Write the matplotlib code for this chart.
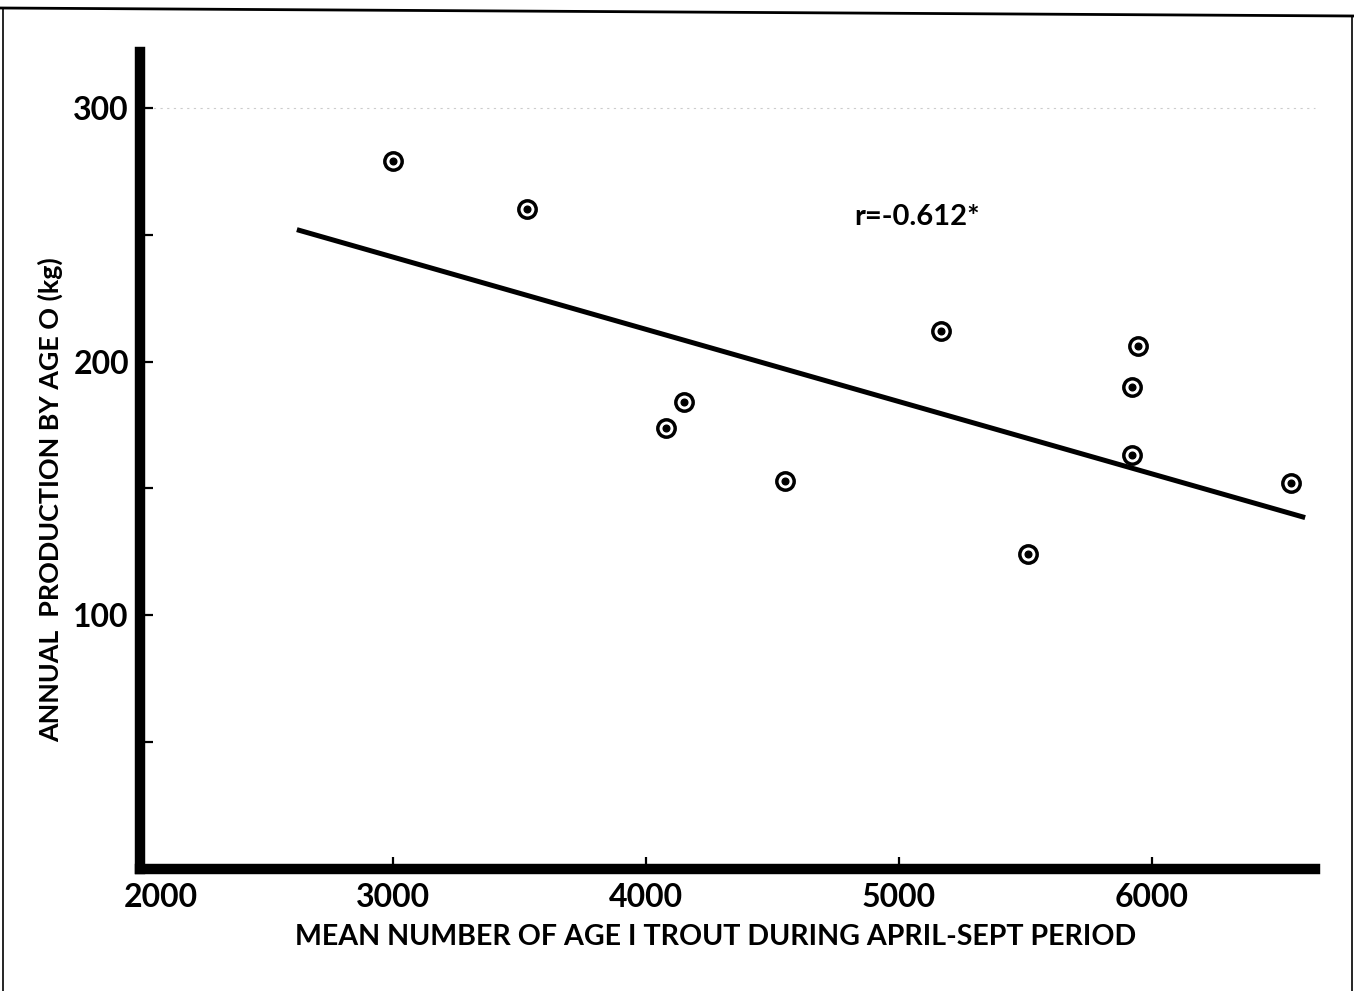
import numpy as np
import matplotlib.pyplot as plt
from matplotlib.lines import Line2D

plt.rcParams['font.family'] = ['Lato', 'DejaVu Sans']
plt.rcParams['font.weight'] = 'bold'
plt.rcParams['axes.labelweight'] = 'bold'

# mean number of age I trout vs production by age 0 (kg)
trout = [3000, 3530, 4080, 4150, 4550, 5165, 5510, 5945, 5920, 5920, 6550]
production = [279, 260, 174, 184, 153, 212, 124, 206, 190, 163, 152]

# regression line end points as drawn
line_x = [2620, 6605]
line_y = [252, 138.5]

xticks = [2000, 3000, 4000, 5000, 6000]
yticks = [50, 100, 150, 200, 250, 300]
yticklabels = ['', '100', '', '200', '', '300']

fig = plt.figure(figsize=(13.54, 9.91), dpi=100)
ax = fig.add_axes([0.1034, 0.1231, 0.8678, 0.8244])

ax.axhline(300, color='0.8', lw=0.8, ls=(0, (2, 4)), zorder=0, clip_on=False)

ax.plot(line_x, line_y, '-k', lw=3.6, solid_capstyle='butt')
ax.plot(trout, production, 'o', ms=12.5, mfc='white', mec='k', mew=2.5)
ax.plot(trout, production, 'o', ms=4.8, color='k')

ax.text(4822, 257, 'r=-0.612*', fontsize=21, va='center', ha='left')

ax.set_xlim(2000, 6644)
ax.set_ylim(0, 322)
ax.set_xticks(xticks)
ax.set_xticklabels([''] + [str(t) for t in xticks[1:]])
ax.set_yticks(yticks)
ax.set_yticklabels(yticklabels)
ax.tick_params(direction='in', length=9, width=1.6, labelsize=23, pad=8)
ax.tick_params(axis='x', pad=10)
ax.xaxis.get_majorticklines()[0].set_visible(False)
ax.xaxis.get_majorticklines()[1].set_visible(False)
# the 2000 label sits a little right of the corner
ax.annotate(str(xticks[0]), xy=(xticks[0], 0), xycoords=('data', 'axes fraction'),
            xytext=(15, -10), textcoords='offset points', ha='center', va='top',
            fontsize=23)

for side in ['top', 'right']:
    ax.spines[side].set_visible(False)
for side in ['left', 'bottom']:
    ax.spines[side].set_linewidth(7.5)
    ax.spines[side].set_capstyle('projecting')

ax.set_xlabel('MEAN NUMBER OF AGE I TROUT DURING APRIL-SEPT PERIOD', fontsize=20.6, va='center')
ax.xaxis.set_label_coords(0.49, -0.083)
ax.set_ylabel('ANNUAL  PRODUCTION BY AGE O (kg)', fontsize=19.4, va='center')
ax.yaxis.set_label_coords(-0.0766, 0.452)

# scanned page frame
fig.add_artist(Line2D([0, 1], [1 - 8 / 991, 1 - 16 / 991], color='k', lw=2))
fig.add_artist(Line2D([3 / 1354, 3 / 1354], [0, 1 - 8 / 991], color='k', lw=1.2))
fig.add_artist(Line2D([1352 / 1354, 1352 / 1354], [0, 1 - 16 / 991], color='k', lw=1.2))

fig.savefig('out.png', dpi=100)
